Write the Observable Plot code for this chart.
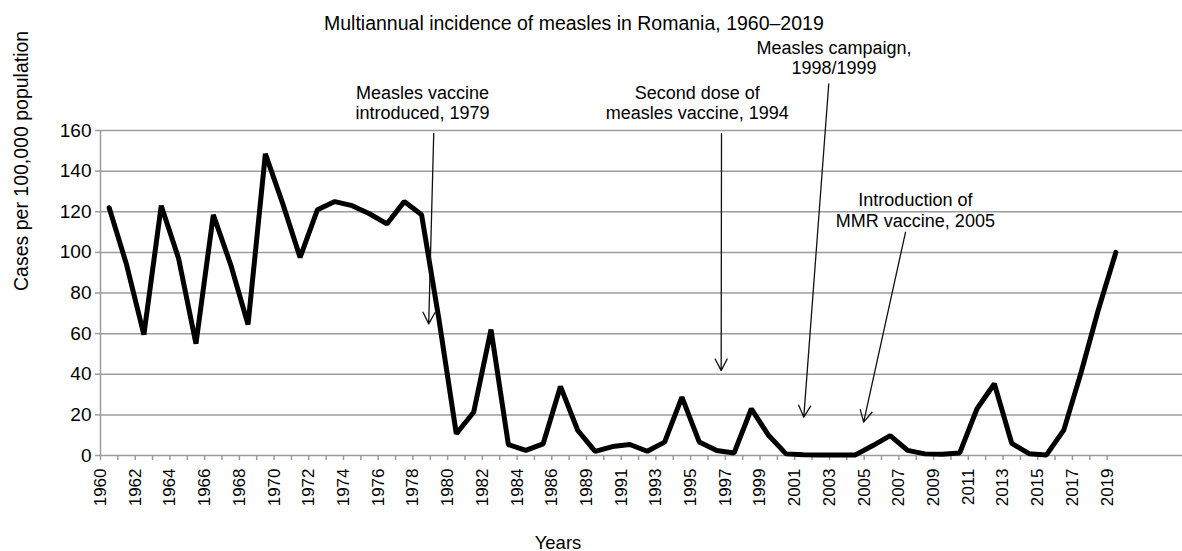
<!DOCTYPE html>
<html>
<head>
<meta charset="utf-8">
<script src="https://cdn.jsdelivr.net/npm/d3@7"></script>
<script src="https://cdn.jsdelivr.net/npm/@observablehq/plot@0.6"></script>
<style>
  body { margin: 0; background: #fff; font-family: "Liberation Sans", Arial, sans-serif; color: #000; }
  #title { height: 40px; box-sizing: border-box; padding-top: 12px; padding-left: 324px;
           font-size: 19.5px; line-height: 22px; white-space: nowrap; }
  #chart svg { display: block; }
</style>
</head>
<body>
<div id="title">Multiannual incidence of measles in Romania, 1960–2019</div>
<div id="chart"></div>
<script>
// Categories (1988 is absent from the source series)
const years = [1960, 1961, 1962, 1963, 1964, 1965, 1966, 1967, 1968, 1969,
               1970, 1971, 1972, 1973, 1974, 1975, 1976, 1977, 1978, 1979,
               1980, 1981, 1982, 1983, 1984, 1985, 1986, 1987, 1989, 1990,
               1991, 1992, 1993, 1994, 1995, 1996, 1997, 1998, 1999, 2000,
               2001, 2002, 2003, 2004, 2005, 2006, 2007, 2008, 2009, 2010,
               2011, 2012, 2013, 2014, 2015, 2016, 2017, 2018, 2019];

// Cases per 100,000 population
const incidence = [122, 94, 59.5, 123, 97, 55, 118.5, 94, 64.5, 148.5,
                   124, 97.5, 121, 125, 123, 119, 114, 125, 118.5, 67,
                   10.7, 21.3, 62, 5.4, 2.5, 5.7, 34, 12.3, 2, 4.4,
                   5.4, 2.1, 6.6, 28.7, 6.6, 2.5, 1.2, 23, 9.8, 0.8,
                   0.4, 0.3, 0.3, 0.3, 4.9, 9.8, 2.5, 0.8, 0.6, 1.2,
                   23, 35.3, 6, 0.9, 0.3, 12.5, 41, 72, 100];

const yTicks = [0, 20, 40, 60, 80, 100, 120, 140, 160];

// Annotations (anchored in category / value space)
const noteText = ["Measles vaccine\nintroduced, 1979",
                  "Second dose of\nmeasles vaccine, 1994",
                  "Measles campaign,\n1998/1999",
                  "Introduction of\nMMR vaccine, 2005"];
const noteX = [18.55, 34.38, 42.26, 46.95];
const noteY = [165.8, 165.8, 187.6, 112.7];
const arrowFromX = [19.20, 35.78, 41.96, 46.38];
const arrowFromY = [158.5, 158.5, 183.0, 109.9];
const arrowToX = [18.91, 35.76, 40.52, 43.97];
const arrowToY = [64.8, 41.8, 18.9, 16.4];

const yLabel = "Cases per 100,000 population";
const xLabel = "Years";

const data = years.map((yr, i) => ({pos: i + 0.5, year: yr, value: incidence[i]}));
const tickPos = d3.range(years.length);
const labelPos = tickPos.filter(i => i % 2 === 0);
const notes = noteText.map((t, i) => ({t, x: noteX[i], y: noteY[i]}));
const arrows = arrowFromX.map((x, i) => ({x1: x, y1: arrowFromY[i], x2: arrowToX[i], y2: arrowToY[i]}));

const grey = "#9c9c9c";

const chart = Plot.plot({
  width: 1182,
  height: 511,
  marginLeft: 100,
  marginRight: 0,
  marginTop: 90,
  marginBottom: 96,
  style: {fontFamily: "'Liberation Sans', Arial, sans-serif", color: "#000", background: "#fff", overflow: "visible"},
  x: {domain: [0, 62.34], axis: null},
  y: {domain: [0, 160], axis: null},
  marks: [
    Plot.ruleY(yTicks, {stroke: grey, strokeWidth: 1.5}),
    Plot.ruleX([0], {stroke: grey, strokeWidth: 1.5}),
    Plot.axisX({ticks: tickPos, tickSize: 5, tickFormat: () => "", stroke: grey, strokeWidth: 1.5, label: null}),
    Plot.axisY({ticks: yTicks, tickSize: 5, tickPadding: 4, fontSize: 19, stroke: grey, strokeWidth: 1.5, fill: "#000", label: null}),
    Plot.text(labelPos, {x: d => d, y: 0, text: d => String(years[d]), rotate: -90,
                         textAnchor: "end", lineAnchor: "middle", dy: 13, fontSize: 17, fill: "#000"}),
    Plot.line(data, {x: "pos", y: "value", stroke: "#000", strokeWidth: 5, strokeLinejoin: "miter"}),
    Plot.arrow(arrows, {x1: "x1", y1: "y1", x2: "x2", y2: "y2", stroke: "#111", strokeWidth: 1.3,
                        headLength: 15, headAngle: 55}),
    Plot.text(notes, {x: "x", y: "y", text: "t", lineAnchor: "bottom", lineHeight: 1.12,
                      textAnchor: "middle", fontSize: 18, fill: "#000"}),
    Plot.text([yLabel], {text: d => d, frameAnchor: "left", dx: -79, dy: -2, rotate: -90,
                         fontSize: 19.5, fill: "#000"}),
    Plot.text([xLabel], {text: d => d, frameAnchor: "bottom", dx: -83.5, dy: 93, lineAnchor: "bottom",
                         fontSize: 18.5, fill: "#000"})
  ]
});

document.getElementById("chart").appendChild(chart);
</script>
</body>
</html>
